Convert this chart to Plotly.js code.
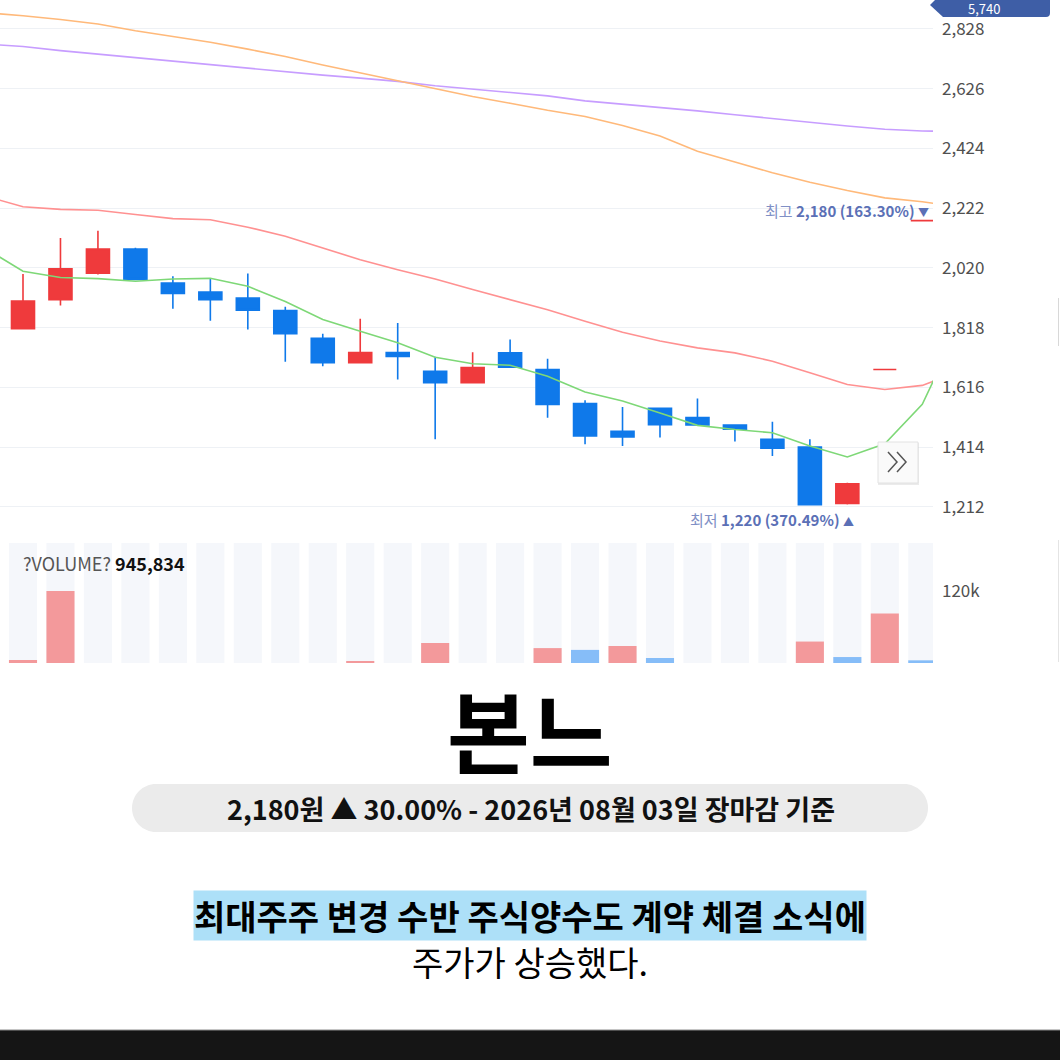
<!DOCTYPE html>
<html><head><meta charset="utf-8">
<script src="https://cdn.plot.ly/plotly-3.0.1.min.js"></script>
<style>html,body{margin:0;padding:0;background:#fff;overflow:hidden}#chart{width:1060px;height:1060px;}</style>
</head><body><div id="chart"></div>
<script>
// ---------- data ----------
const dayIndex = [0,1,2,3,4,5,6,7,8,9,10,11,12,13,14,15,16,17,18,19,20,21,22,23,24];
const openP  = [1815,1913,2002,2084,1969,1939,1918,1876,1782,1700,1734,1671,1632,1733,1677,1562,1468,1546,1514,1489,1441,1415,1224,1677,2180];
const highP  = [2000,2121,2146,2088,1992,1986,2001,1889,1798,1848,1834,1720,1735,1778,1713,1573,1550,1546,1579,1489,1500,1441,1294,1677,2180];
const lowP   = [1812,1893,1998,1981,1882,1842,1812,1703,1688,1700,1643,1441,1632,1685,1514,1424,1418,1447,1489,1433,1384,1220,1220,1677,2180];
const closeP = [1908,2017,2084,1981,1934,1913,1877,1798,1700,1734,1721,1632,1683,1685,1559,1452,1449,1490,1489,1475,1411,1220,1290,1677,2180];

const maIndex = [-1,0,1,2,3,4,5,6,7,8,9,10,11,12,13,14,15,16,17,18,19,20,21,22,23,24,25];
const ma5   = [2086,2009,1988,1984,1975,1983,1985,1958,1907,1846,1806,1767,1718,1696,1691,1654,1601,1570,1530,1488,1474,1463,1418,1381,1426,1559,1828];
const ma20  = [2263,2227,2218,2215,2201,2187,2183,2158,2127,2088,2048,2014,1983,1947,1913,1879,1840,1803,1773,1750,1733,1705,1666,1626,1609,1623,1671];
const ma60  = [2883,2873,2860,2845,2822,2803,2783,2760,2735,2706,2679,2653,2627,2600,2577,2553,2532,2502,2466,2415,2378,2342,2310,2282,2257,2244,2226];
const ma120 = [2777,2769,2755,2743,2731,2721,2707,2696,2683,2672,2662,2651,2636,2625,2613,2602,2585,2574,2562,2551,2538,2525,2514,2500,2489,2483,2482];

const volume    = [5000,121000,0,0,0,0,0,0,0,3400,0,33600,0,0,25000,22000,28500,8400,0,0,0,36000,10000,83000,4500];
const volumeDir = ['up','up','up','down','down','down','down','down','down','up','down','up','up','down','up','down','up','down','down','down','down','up','down','up','down'];

const priceTicks = [1212,1414,1616,1818,2020,2222,2424,2626,2828];
const volumeTicks = [120000];
const volumeTickText = ['120k'];

const stockName = '본느';
const summaryText = '2,180원 ▲ 30.00% - 2026년 08월 03일 장마감 기준';
const headline1 = '최대주주 변경 수반 주식양수도 계약 체결 소식에';
const headline2 = '주가가 상승했다.';
const highLabel = ['최고', '2,180 (163.30%)', '▼'];
const lowLabel  = ['최저', '1,220 (370.49%)', '▲'];
const volumeLabel = ['?VOLUME?', '945,834'];
const tagValue = '5,740';

// ---------- layout helpers ----------
const W = 1060, H = 1060;
const px = x => x / W;
const py = y => 1 - y / H;
const FONT = '"Noto Sans CJK KR", "Noto Sans", sans-serif';
const RED = '#ef3a3c', BLUE = '#0f79ea';
const VOL_MAX = 201400;
const volColors = volumeDir.map(d => d === 'up' ? '#f3999b' : '#86bdf8');

const traces = [
  { type: 'bar', x: dayIndex, y: dayIndex.map(() => VOL_MAX), xaxis: 'x2', yaxis: 'y2',
    width: 0.75, marker: { color: '#f5f7fb', line: { width: 0 } }, hoverinfo: 'skip' },
  { type: 'bar', x: dayIndex, y: volume, xaxis: 'x2', yaxis: 'y2',
    width: 0.75, marker: { color: volColors, line: { width: 0 } }, hoverinfo: 'skip' },
  { type: 'candlestick', x: dayIndex, open: openP, high: highP, low: lowP, close: closeP,
    xaxis: 'x', yaxis: 'y', whiskerwidth: 0,
    increasing: { line: { color: RED, width: 1.6 }, fillcolor: RED },
    decreasing: { line: { color: BLUE, width: 1.6 }, fillcolor: BLUE }, hoverinfo: 'skip' },
  { type: 'scatter', mode: 'lines', x: maIndex, y: ma120, line: { color: '#c79dff', width: 1.6 }, hoverinfo: 'skip' },
  { type: 'scatter', mode: 'lines', x: maIndex, y: ma60, line: { color: '#ffb97a', width: 1.6 }, hoverinfo: 'skip' },
  { type: 'scatter', mode: 'lines', x: maIndex, y: ma20, line: { color: '#ff9191', width: 1.6 }, hoverinfo: 'skip' },
  { type: 'scatter', mode: 'lines', x: maIndex, y: ma5, line: { color: '#7ed877', width: 1.6 }, hoverinfo: 'skip' }
];

const xRange = [-23 / 37.47, (933 - 23) / 37.47];
const k = 13.25;
const pillPath = `M ${px(156)} ${py(784)} L ${px(904)} ${py(784)} C ${px(904+k)} ${py(784)} ${px(928)} ${py(808-k)} ${px(928)} ${py(808)} C ${px(928)} ${py(808+k)} ${px(904+k)} ${py(832)} ${px(904)} ${py(832)} L ${px(156)} ${py(832)} C ${px(156-k)} ${py(832)} ${px(132)} ${py(808+k)} ${px(132)} ${py(808)} C ${px(132)} ${py(808-k)} ${px(156-k)} ${py(784)} ${px(156)} ${py(784)} Z`;
const tagPath = `M ${px(930)} ${py(5)} L ${px(943)} ${py(-8)} L ${px(1050)} ${py(-8)} L ${px(1050)} ${py(13)} Q ${px(1050)} ${py(17)} ${px(1046)} ${py(17)} L ${px(943)} ${py(17)} Z`;
const chevron = x0 => `M ${px(x0)} ${py(452)} L ${px(x0+9)} ${py(462)} L ${px(x0)} ${py(472)}`;

const shapes = [
  { type: 'path', xref: 'paper', yref: 'paper', path: tagPath, fillcolor: '#3e5ea6', line: { width: 0 }, layer: 'above' },
  { type: 'rect', xref: 'paper', yref: 'paper', x0: px(878), x1: px(919), y0: py(443), y1: py(485), fillcolor: 'rgba(0,0,0,0.08)', line: { width: 0 }, layer: 'above' },
  { type: 'rect', xref: 'paper', yref: 'paper', x0: px(878), x1: px(918), y0: py(442), y1: py(483), fillcolor: '#fafafa', line: { color: '#e2e2e2', width: 1 }, layer: 'above' },
  { type: 'path', xref: 'paper', yref: 'paper', path: chevron(888), line: { color: '#555', width: 1.5 }, layer: 'above' },
  { type: 'path', xref: 'paper', yref: 'paper', path: chevron(897), line: { color: '#555', width: 1.5 }, layer: 'above' },
  { type: 'line', xref: 'paper', yref: 'paper', x0: px(1058.5), x1: px(1058.5), y0: py(298), y1: py(346), line: { color: '#d8d8d8', width: 1 } },
  { type: 'line', xref: 'paper', yref: 'paper', x0: px(1058.5), x1: px(1058.5), y0: py(540), y1: py(662), line: { color: '#e4e4e4', width: 1 } },
  { type: 'path', xref: 'paper', yref: 'paper', path: pillPath, fillcolor: '#ebebeb', line: { width: 0 } },
  { type: 'rect', xref: 'paper', yref: 'paper', x0: 0, x1: 1, y0: 0, y1: py(1030), fillcolor: '#151515', line: { width: 0 } },
  { type: 'line', xref: 'paper', yref: 'paper', x0: 0, x1: 1, y0: py(1030), y1: py(1030), line: { color: '#8a8a8a', width: 1 } }
];

const annotations = [
  { xref: 'paper', yref: 'paper', x: px(984), y: py(8.5), text: tagValue, showarrow: false, xanchor: 'center', yanchor: 'middle',
    borderpad: 0, font: { family: FONT, size: 13, color: '#ffffff' } },
  { xref: 'paper', yref: 'paper', x: px(931), y: py(210), showarrow: false, xanchor: 'right', yanchor: 'middle',
    text: `<span style="color:#8090c6">${highLabel[0]}</span> <b>${highLabel[1]}</b> <span style="font-size:11px">${highLabel[2]}</span>`,
    font: { family: FONT, size: 15, color: '#5b70b6' } },
  { xref: 'paper', yref: 'paper', x: px(856), y: py(519), showarrow: false, xanchor: 'right', yanchor: 'middle',
    text: `<span style="color:#8090c6">${lowLabel[0]}</span> <b>${lowLabel[1]}</b> <span style="font-size:11px">${lowLabel[2]}</span>`,
    font: { family: FONT, size: 15, color: '#5b70b6' } },
  { xref: 'paper', yref: 'paper', x: px(21), y: py(563), showarrow: false, xanchor: 'left', yanchor: 'middle',
    text: `<span style="color:#555">${volumeLabel[0]}</span> <b>${volumeLabel[1]}</b>`,
    font: { family: FONT, size: 18, color: '#111' } },
  { xref: 'paper', yref: 'paper', x: 0.5, y: py(728), showarrow: false, xanchor: 'center', yanchor: 'middle',
    text: `<b>${stockName}</b>`, font: { family: FONT, size: 90, color: '#000', weight: 900 } },
  { xref: 'paper', yref: 'paper', x: px(531), y: py(808), showarrow: false, xanchor: 'center', yanchor: 'middle',
    text: `<b>${summaryText}</b>`, font: { family: FONT, size: 27, color: '#111' } },
  { xref: 'paper', yref: 'paper', x: px(530), y: py(915), showarrow: false, xanchor: 'center', yanchor: 'middle',
    text: `<b>${headline1}</b>`, bgcolor: '#ade0f8', borderpad: 0,
    font: { family: FONT, size: 34, color: '#000' } },
  { xref: 'paper', yref: 'paper', x: px(530), y: py(961), showarrow: false, xanchor: 'center', yanchor: 'middle',
    text: headline2, font: { family: FONT, size: 34, color: '#000' } }
];

const layout = {
  width: W, height: H,
  margin: { l: 0, r: 0, t: 0, b: 0, pad: 0 },
  paper_bgcolor: '#ffffff', plot_bgcolor: '#ffffff',
  showlegend: false, hovermode: false, dragmode: false,
  barmode: 'overlay', boxgap: 0.386, boxgroupgap: 0,
  xaxis: { domain: [0, px(933)], range: xRange, anchor: 'y', showgrid: false, zeroline: false,
           showticklabels: false, ticks: '', showline: false, rangeslider: { visible: false }, fixedrange: true },
  yaxis: { domain: [0.5, 1], range: [1134.2, 2926.0], side: 'right', anchor: 'x',
           tickvals: priceTicks, tickformat: ',d', showgrid: true, gridcolor: '#eef1f5', gridwidth: 1,
           zeroline: false, showline: false, ticks: '', ticklabelstandoff: 8,
           tickfont: { family: FONT, size: 17, color: '#505050' }, fixedrange: true },
  xaxis2: { domain: [0, px(933)], range: xRange, anchor: 'y2', matches: 'x', showgrid: false, zeroline: false,
            showticklabels: false, ticks: '', showline: false, fixedrange: true },
  yaxis2: { domain: [py(663), py(543)], range: [0, VOL_MAX], side: 'right', anchor: 'x2',
            tickvals: volumeTicks, ticktext: volumeTickText, showgrid: false, zeroline: false, showline: false,
            ticks: '', ticklabelstandoff: 8, tickfont: { family: FONT, size: 17, color: '#505050' }, fixedrange: true },
  shapes: shapes,
  annotations: annotations
};

Plotly.newPlot('chart', traces, layout, { displayModeBar: false, staticPlot: true });
</script>
</body></html>
